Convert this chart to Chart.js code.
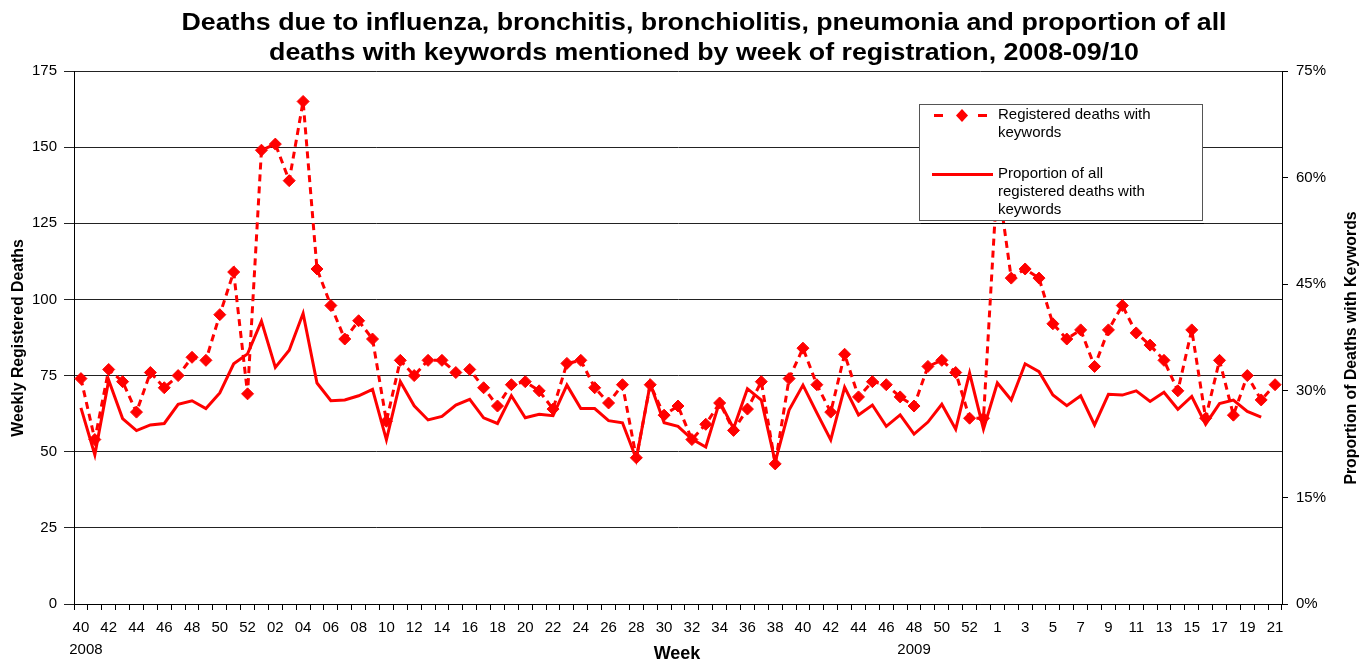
<!DOCTYPE html>
<html>
<head>
<meta charset="utf-8">
<script src="https://cdn.jsdelivr.net/npm/chart.js@4.4.1/dist/chart.umd.min.js"></script>
<style>
  body { margin: 0; background: #fff; }
  #wrap { width: 1369px; height: 661px; position: relative; }
</style>
</head>
<body>
<div id="wrap"><canvas id="chart1"></canvas></div>
<script>
// week labels: 2008 wk 40-52, 2009 wk 01-53, 2010 wk 1-21
const weeks2008 = ['40','41','42','43','44','45','46','47','48','49','50','51','52']
const weeks2009 = ['01','02','03','04','05','06','07','08','09','10','11','12','13','14','15','16','17','18','19','20',
  '21','22','23','24','25','26','27','28','29','30','31','32','33','34','35','36','37','38','39','40',
  '41','42','43','44','45','46','47','48','49','50','51','52','53']
const weeks2010 = ['1','2','3','4','5','6','7','8','9','10','11','12','13','14','15','16','17','18','19','20','21']
const weeks = weeks2008.concat(weeks2009, weeks2010)

// registered deaths with keywords (left axis)
const deaths = [74,54,77,73,63,76,71,75,81,80,95,109,69,
  149,151,139,165,110,98,87,93,87,60,80,75,80,80,76,77,71,65,72,73,70,64,79,80,71,66,72,48,
  72,62,65,54,59,66,57,64,73,46,74,84,72,63,82,68,73,72,68,65,78,80,76,61,61,
  140,107,110,107,92,87,90,78,90,98,89,85,80,70,90,61,80,62,75,67,72]

// proportion of all registered deaths with keywords, % (right axis)
const proportion = [27.6,21.0,31.5,26.1,24.4,25.2,25.4,28.1,28.6,27.5,29.7,33.8,35.2,
  39.8,33.3,35.7,40.9,31.1,28.6,28.7,29.3,30.2,23.1,31.3,27.9,25.9,26.4,28.0,28.8,26.2,25.4,29.3,26.2,26.7,26.5,30.8,27.5,27.5,25.8,25.5,20.4,
  31.0,25.5,25.0,23.2,22.1,28.5,24.7,30.3,28.7,20.0,27.3,30.8,26.9,23.1,30.5,26.6,28.0,25.0,26.6,23.9,25.6,28.1,24.6,32.5,24.6,
  31.1,28.7,33.8,32.7,29.4,27.9,29.3,25.2,29.5,29.4,30.0,28.5,29.8,27.4,29.2,25.3,28.2,28.7,27.1,26.3,null]

const leftTicks = [0, 175, 25]
const rightTicks = [0, 75, 15]

const titleLines = ['Deaths due to influenza, bronchitis, bronchiolitis, pneumonia and proportion of all',
  'deaths with keywords mentioned by week of registration, 2008-09/10']
const legendLabels = [['Registered deaths with', 'keywords'], ['Proportion of all', 'registered deaths with', 'keywords']]

const FONT = '"Liberation Sans", Arial, sans-serif'
const RED = '#ff0000'

// titles, year labels and the boxed legend, drawn Excel-style
const extras = {
  id: 'extras',
  afterDraw(chart) {
    const ctx = chart.ctx
    const x = chart.scales.x
    ctx.save()
    ctx.fillStyle = '#000'
    ctx.textAlign = 'center'
    ctx.textBaseline = 'middle'

    // main title, squeezed to the reference width
    ctx.font = 'bold 24px ' + FONT
    const w0 = ctx.measureText(titleLines[0]).width
    const sx = 1045 / w0
    titleLines.forEach((t, i) => {
      ctx.save()
      ctx.translate(704, 23 + i * 30)
      ctx.scale(sx, 1)
      ctx.fillText(t, 0, 0)
      ctx.restore()
    })

    // axis titles
    ctx.font = 'bold 17px ' + FONT
    ctx.save()
    ctx.translate(18, 338)
    ctx.rotate(-Math.PI / 2)
    ctx.scale(0.93, 1)
    ctx.fillText('Weekly Registered Deaths', 0, 0)
    ctx.restore()
    ctx.save()
    ctx.translate(1351, 348)
    ctx.rotate(-Math.PI / 2)
    ctx.scale(0.93, 1)
    ctx.fillText('Proportion of Deaths with Keywords', 0, 0)
    ctx.restore()

    ctx.font = 'bold 18px ' + FONT
    ctx.fillText('Week', 677, 654)
    ctx.font = '15px ' + FONT
    ctx.fillText('2008', x.getPixelForValue(0) + 5, 650)
    ctx.fillText('2009', x.getPixelForValue(60), 650)

    // legend box
    ctx.fillStyle = '#fff'
    ctx.fillRect(919, 104, 283, 116)
    ctx.strokeStyle = '#555'
    ctx.lineWidth = 1
    ctx.strokeRect(919.5, 104.5, 283, 116)
    ctx.strokeStyle = '#000'
    ctx.beginPath()
    ctx.moveTo(921, 223.5)
    ctx.lineTo(1204, 223.5)
    ctx.stroke()

    // dashed + diamond sample
    ctx.fillStyle = RED
    ctx.fillRect(934, 114, 9, 3)
    ctx.fillRect(978, 114, 9, 3)
    ctx.beginPath()
    ctx.moveTo(962, 109)
    ctx.lineTo(968, 115.5)
    ctx.lineTo(962, 122)
    ctx.lineTo(956, 115.5)
    ctx.closePath()
    ctx.fill()
    // solid sample
    ctx.fillRect(932, 173, 61, 3)

    ctx.fillStyle = '#000'
    ctx.textAlign = 'left'
    ctx.font = '15px ' + FONT
    legendLabels[0].forEach((t, i) => ctx.fillText(t, 998, 115 + i * 18))
    legendLabels[1].forEach((t, i) => ctx.fillText(t, 998, 174 + i * 18))
    ctx.restore()
  }
}

const chart = new Chart('chart1', {
  type: 'line',
  data: {
    labels: weeks,
    datasets: [
      {
        label: 'Registered deaths with keywords',
        data: deaths,
        yAxisID: 'y',
        borderColor: RED,
        borderWidth: 3,
        borderDash: [7, 5],
        pointStyle: 'rectRot',
        pointRadius: 6,
        pointBackgroundColor: RED,
        pointBorderColor: RED,
        pointBorderWidth: 1,
        tension: 0
      },
      {
        label: 'Proportion of all registered deaths with keywords',
        data: proportion,
        yAxisID: 'y2',
        borderColor: RED,
        borderWidth: 3,
        pointRadius: 0,
        tension: 0
      }
    ]
  },
  options: {
    responsive: true,
    maintainAspectRatio: false,
    animation: false,
    layout: { padding: { top: 71, left: 0, right: 0, bottom: 0 } },
    plugins: {
      legend: { display: false },
      title: { display: false },
      tooltip: { enabled: false }
    },
    scales: {
      x: {
        type: 'category',
        offset: true,
        afterFit: s => { s.height = 57 },
        grid: { offset: true, drawOnChartArea: false, tickLength: 6, color: '#000' },
        border: { display: true, color: '#000' },
        ticks: {
          autoSkip: false,
          maxRotation: 0,
          padding: 9,
          color: '#000',
          font: { size: 15, family: FONT },
          callback: function (v, i) { return i % 2 === 0 ? this.getLabelForValue(v) : '' }
        }
      },
      y: {
        position: 'left',
        min: leftTicks[0],
        max: leftTicks[1],
        afterFit: s => { s.width = 74 },
        grid: { color: '#222', tickLength: 10 },
        border: { display: true, color: '#000' },
        ticks: { stepSize: leftTicks[2], padding: 7, color: '#000', font: { size: 15, family: FONT } }
      },
      y2: {
        position: 'right',
        min: rightTicks[0],
        max: rightTicks[1],
        afterFit: s => { s.width = 87 },
        grid: { drawOnChartArea: false, tickLength: 6, color: '#000' },
        border: { display: true, color: '#000' },
        ticks: {
          stepSize: rightTicks[2],
          padding: 8,
          color: '#000',
          font: { size: 15, family: FONT },
          callback: v => v + '%'
        }
      }
    }
  },
  plugins: [extras]
})
</script>
</body>
</html>
